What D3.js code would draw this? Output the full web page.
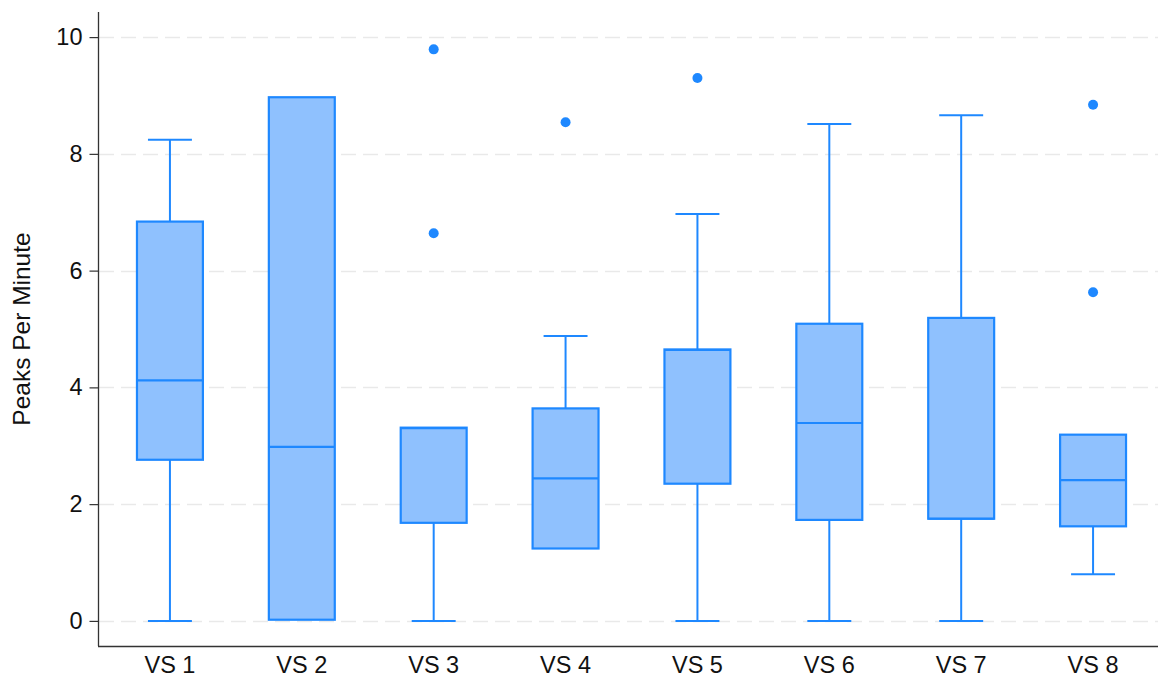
<!DOCTYPE html>
<html>
<head>
<meta charset="utf-8">
<script src="https://cdn.jsdelivr.net/npm/d3@7"></script>
<style>
  html, body { margin: 0; padding: 0; background: #fff; }
  svg { display: block; font-family: "Liberation Sans", Arial, Helvetica, sans-serif; }
</style>
</head>
<body>
<svg id="chart" width="1158" height="680"></svg>
<script>
// Peaks per minute, five-number summaries per VS group
const categories = ["VS 1", "VS 2", "VS 3", "VS 4", "VS 5", "VS 6", "VS 7", "VS 8"];
const whiskerLow  = [0.00, 0.02, 0.00, 1.24, 0.00, 0.00, 0.00, 0.80];
const q1          = [2.76, 0.02, 1.68, 1.24, 2.35, 1.73, 1.75, 1.62];
const medians     = [4.12, 2.98, 3.30, 2.44, 4.64, 3.39, 1.75, 2.41];
const q3          = [6.84, 8.97, 3.31, 3.64, 4.65, 5.09, 5.19, 3.19];
const whiskerHigh = [8.24, 8.97, 3.31, 4.88, 6.97, 8.51, 8.66, 3.19];
const outliers    = [[], [], [6.64, 9.79], [8.54], [9.30], [], [], [5.63, 8.84]];
const yTicks = [0, 2, 4, 6, 8, 10];
const yLabel = "Peaks Per Minute";

const boxes = categories.map((c, i) => ({
  cat: c, lo: whiskerLow[i], q1: q1[i], med: medians[i], q3: q3[i], hi: whiskerHigh[i], out: outliers[i]
}));

const svg = d3.select("#chart");
const plotLeft = 99, plotRight = 1158, plotTop = 12, plotBottom = 646;

const x = d3.scaleBand().domain(categories).range([104, 1159]).paddingInner(0).paddingOuter(0);
const y = d3.scaleLinear().domain([-0.43, 10.43]).range([plotBottom, plotTop]);

const stroke = "#1E88FF";
const fill = "#8FC1FE";
const textColor = "#111";
const tickFont = "23.5px";

// horizontal dashed grid
svg.append("g")
  .selectAll("line")
  .data(yTicks)
  .join("line")
  .attr("x1", plotLeft).attr("x2", plotRight)
  .attr("y1", d => Math.round(y(d)) + 0.5).attr("y2", d => Math.round(y(d)) + 0.5)
  .attr("stroke", "#e9e9e9")
  .attr("stroke-width", 1.6)
  .attr("stroke-dasharray", "15,7");

// y axis
const yAxis = svg.append("g")
  .attr("transform", `translate(${plotLeft - 0.5},0)`)
  .call(d3.axisLeft(y).tickValues(yTicks).tickSize(9).tickPadding(7).tickFormat(d3.format("d")));
yAxis.select(".domain").remove();
yAxis.selectAll(".tick line").attr("stroke", "#333").attr("stroke-width", 1.2);
yAxis.selectAll(".tick text")
  .attr("fill", textColor)
  .style("font-size", tickFont)
  .style("font-family", "'Liberation Sans', Arial, sans-serif");

svg.append("line")
  .attr("x1", plotLeft - 0.5).attr("x2", plotLeft - 0.5)
  .attr("y1", plotTop).attr("y2", plotBottom)
  .attr("stroke", "#333").attr("stroke-width", 1.3);

// x axis
const xAxis = svg.append("g")
  .attr("transform", `translate(0,${plotBottom})`)
  .call(d3.axisBottom(x).tickSize(0).tickPadding(10));
xAxis.select(".domain").remove();
xAxis.selectAll(".tick text")
  .attr("fill", textColor)
  .style("font-size", tickFont)
  .style("font-family", "'Liberation Sans', Arial, sans-serif");

svg.append("line")
  .attr("x1", plotLeft - 1).attr("x2", plotRight)
  .attr("y1", plotBottom + 0.5).attr("y2", plotBottom + 0.5)
  .attr("stroke", "#333").attr("stroke-width", 1.3);

// y axis title
svg.append("text")
  .attr("transform", `translate(30,${(plotTop + plotBottom) / 2}) rotate(-90)`)
  .attr("text-anchor", "middle")
  .attr("fill", textColor)
  .style("font-size", "24.5px")
  .text(yLabel);

// boxes
const bw = x.bandwidth() * 0.5;
const capW = x.bandwidth() / 3;
const g = svg.append("g").selectAll("g").data(boxes).join("g")
  .attr("transform", d => `translate(${x(d.cat) + x.bandwidth() / 2},0)`);

// whiskers
g.filter(d => d.hi > d.q3).append("line")
  .attr("x1", 0).attr("x2", 0)
  .attr("y1", d => y(d.q3)).attr("y2", d => y(d.hi))
  .attr("stroke", stroke).attr("stroke-width", 2);
g.filter(d => d.hi > d.q3).append("line")
  .attr("x1", -capW / 2).attr("x2", capW / 2)
  .attr("y1", d => y(d.hi)).attr("y2", d => y(d.hi))
  .attr("stroke", stroke).attr("stroke-width", 2);
g.filter(d => d.lo < d.q1).append("line")
  .attr("x1", 0).attr("x2", 0)
  .attr("y1", d => y(d.q1)).attr("y2", d => y(d.lo))
  .attr("stroke", stroke).attr("stroke-width", 2);
g.filter(d => d.lo < d.q1).append("line")
  .attr("x1", -capW / 2).attr("x2", capW / 2)
  .attr("y1", d => y(d.lo)).attr("y2", d => y(d.lo))
  .attr("stroke", stroke).attr("stroke-width", 2);

// box body
g.append("rect")
  .attr("x", -bw / 2)
  .attr("width", bw)
  .attr("y", d => y(d.q3))
  .attr("height", d => y(d.q1) - y(d.q3))
  .attr("fill", fill)
  .attr("stroke", stroke)
  .attr("stroke-width", 2.2);

// median
g.append("line")
  .attr("x1", -bw / 2).attr("x2", bw / 2)
  .attr("y1", d => y(d.med)).attr("y2", d => y(d.med))
  .attr("stroke", stroke).attr("stroke-width", 2.2);

// outliers
g.selectAll("circle")
  .data(d => d.out)
  .join("circle")
  .attr("cx", 0)
  .attr("cy", d => y(d))
  .attr("r", 5)
  .attr("fill", stroke);
</script>
</body>
</html>
